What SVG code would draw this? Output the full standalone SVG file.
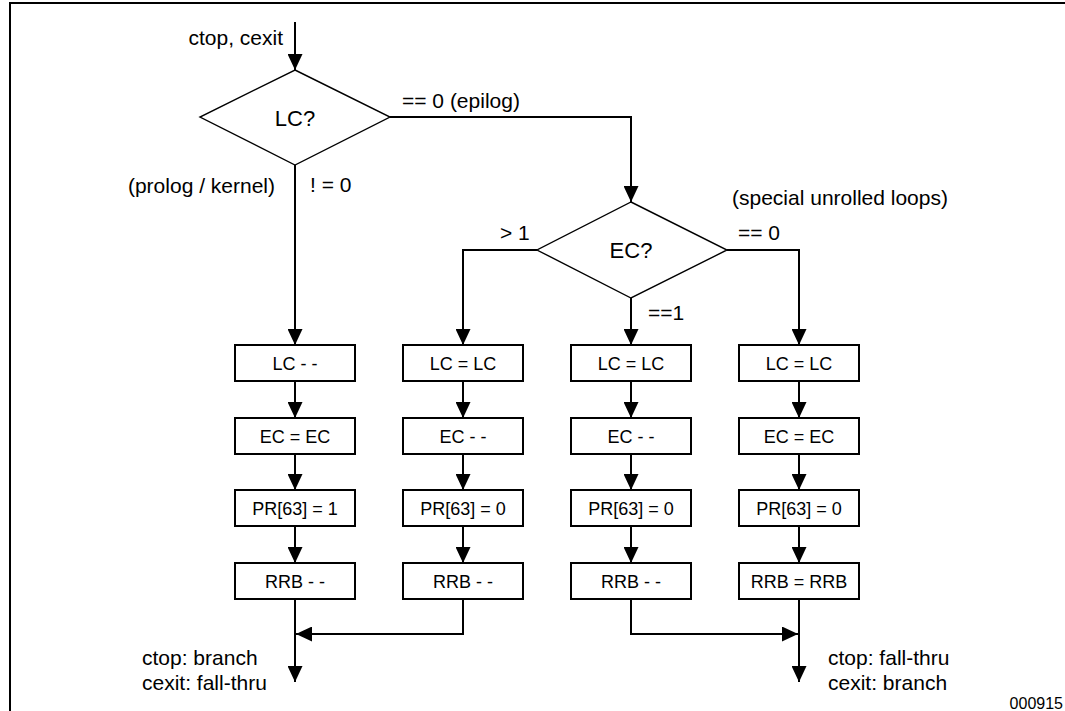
<svg xmlns="http://www.w3.org/2000/svg" width="1065" height="711" viewBox="0 0 1065 711">
<style>
text{font-family:"Liberation Sans",Arial,sans-serif;fill:#000}
.lbl{font-size:21px}
.box rect{fill:#fff;stroke:#000;stroke-width:2}
.box text{font-size:18px;text-anchor:middle}
.dia polygon{fill:#fff;stroke:#000;stroke-width:1.4}
.dia text{font-size:22px;text-anchor:middle}
#connectors path{fill:none;stroke:#000;stroke-width:2}
.frame{fill:none;stroke:#000;stroke-width:2}
</style>
<defs>
<marker id="ah" markerUnits="userSpaceOnUse" viewBox="0 0 16 15" refX="16" refY="7.5" markerWidth="16" markerHeight="15" orient="auto">
<path d="M0,0 L16,7.5 L0,15 Z" fill="#000"/>
</marker>
</defs>
<rect width="1065" height="711" fill="#fff"/>
<path class="frame" d="M10,711 L10,3 L1065,3"/>

<g id="connectors">
<path d="M295,22 L295,70" marker-end="url(#ah)"/>
<path d="M390,117 L631,117 L631,202" marker-end="url(#ah)"/>
<path d="M295,165 L295,345" marker-end="url(#ah)"/>
<path d="M537,250 L463,250 L463,345" marker-end="url(#ah)"/>
<path d="M631,298 L631,345" marker-end="url(#ah)"/>
<path d="M727,250 L799,250 L799,345" marker-end="url(#ah)"/>
<path d="M295,381 L295,418" marker-end="url(#ah)"/>
<path d="M295,454 L295,490" marker-end="url(#ah)"/>
<path d="M295,526 L295,563" marker-end="url(#ah)"/>
<path d="M463,381 L463,418" marker-end="url(#ah)"/>
<path d="M463,454 L463,490" marker-end="url(#ah)"/>
<path d="M463,526 L463,563" marker-end="url(#ah)"/>
<path d="M631,381 L631,418" marker-end="url(#ah)"/>
<path d="M631,454 L631,490" marker-end="url(#ah)"/>
<path d="M631,526 L631,563" marker-end="url(#ah)"/>
<path d="M799,381 L799,418" marker-end="url(#ah)"/>
<path d="M799,454 L799,490" marker-end="url(#ah)"/>
<path d="M799,526 L799,563" marker-end="url(#ah)"/>
<path d="M463,599 L463,634 L296,634" marker-end="url(#ah)"/>
<path d="M295,599 L295,682" marker-end="url(#ah)"/>
<path d="M631,599 L631,634 L798,634" marker-end="url(#ah)"/>
<path d="M799,599 L799,682" marker-end="url(#ah)"/>
</g>

<g id="lc" class="dia"><polygon points="295,70 390,117 295,165 200,117"/><text x="295" y="126">LC?</text></g>
<g id="ec" class="dia"><polygon points="631,202 727,250 631,298 537,250"/><text x="631" y="258">EC?</text></g>

<g id="b11" class="box"><rect x="235" y="345" width="120" height="36"/><text x="295" y="370">LC - -</text></g>
<g id="b12" class="box"><rect x="235" y="418" width="120" height="36"/><text x="295" y="443">EC = EC</text></g>
<g id="b13" class="box"><rect x="235" y="490" width="120" height="36"/><text x="295" y="515">PR[63] = 1</text></g>
<g id="b14" class="box"><rect x="235" y="563" width="120" height="36"/><text x="295" y="588">RRB - -</text></g>

<g id="b21" class="box"><rect x="403" y="345" width="120" height="36"/><text x="463" y="370">LC = LC</text></g>
<g id="b22" class="box"><rect x="403" y="418" width="120" height="36"/><text x="463" y="443">EC - -</text></g>
<g id="b23" class="box"><rect x="403" y="490" width="120" height="36"/><text x="463" y="515">PR[63] = 0</text></g>
<g id="b24" class="box"><rect x="403" y="563" width="120" height="36"/><text x="463" y="588">RRB - -</text></g>

<g id="b31" class="box"><rect x="571" y="345" width="120" height="36"/><text x="631" y="370">LC = LC</text></g>
<g id="b32" class="box"><rect x="571" y="418" width="120" height="36"/><text x="631" y="443">EC - -</text></g>
<g id="b33" class="box"><rect x="571" y="490" width="120" height="36"/><text x="631" y="515">PR[63] = 0</text></g>
<g id="b34" class="box"><rect x="571" y="563" width="120" height="36"/><text x="631" y="588">RRB - -</text></g>

<g id="b41" class="box"><rect x="739" y="345" width="120" height="36"/><text x="799" y="370">LC = LC</text></g>
<g id="b42" class="box"><rect x="739" y="418" width="120" height="36"/><text x="799" y="443">EC = EC</text></g>
<g id="b43" class="box"><rect x="739" y="490" width="120" height="36"/><text x="799" y="515">PR[63] = 0</text></g>
<g id="b44" class="box"><rect x="739" y="563" width="120" height="36"/><text x="799" y="588">RRB = RRB</text></g>

<g id="labels" class="lbl">
<text x="283" y="45" text-anchor="end">ctop, cexit</text>
<text x="275" y="193" text-anchor="end">(prolog / kernel)</text>
<text x="310" y="192">! = 0</text>
<text x="402" y="108">== 0 (epilog)</text>
<text x="732" y="205">(special unrolled loops)</text>
<text x="738" y="240">== 0</text>
<text x="500" y="240">&gt; 1</text>
<text x="648" y="320">==1</text>
<text x="142" y="665">ctop: branch</text>
<text x="142" y="690">cexit: fall-thru</text>
<text x="828" y="665">ctop: fall-thru</text>
<text x="828" y="690">cexit: branch</text>
</g>
<text x="1063" y="709" text-anchor="end" font-size="16">000915</text>
</svg>
